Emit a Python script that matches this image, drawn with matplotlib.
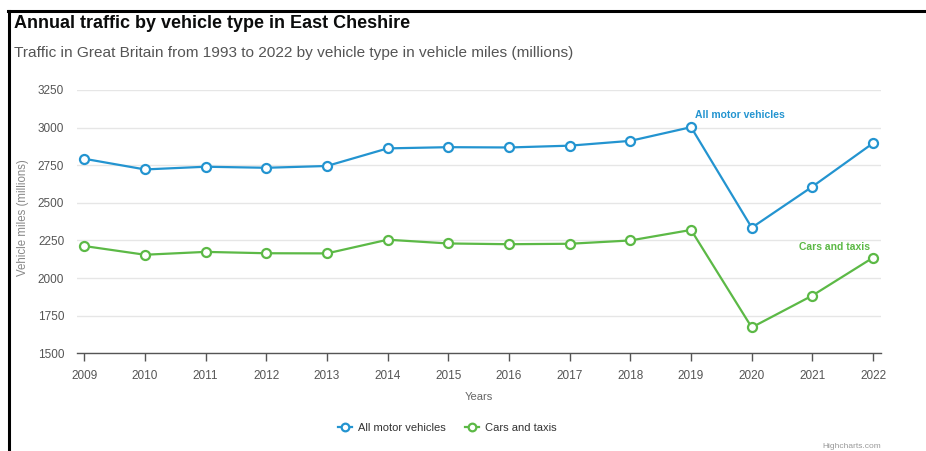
import matplotlib
matplotlib.use("Agg")
import matplotlib.pyplot as plt
from matplotlib.lines import Line2D

years = [2009, 2010, 2011, 2012, 2013, 2014, 2015, 2016, 2017, 2018, 2019, 2020, 2021, 2022]
all_motor = [2793, 2722, 2740, 2733, 2745, 2862, 2870, 2868, 2880, 2912, 3003, 2335, 2608, 2897]
cars_taxis = [2213, 2155, 2174, 2165, 2164, 2255, 2230, 2225, 2228, 2250, 2320, 1672, 1884, 2136]
yticks = [1500, 1750, 2000, 2250, 2500, 2750, 3000, 3250]

BLUE = "#2394d0"
GREEN = "#5cb946"
W, H = 926, 451

plt.rcParams['font.family'] = ['Liberation Sans', 'DejaVu Sans']
fig = plt.figure(figsize=(W / 100, H / 100), dpi=100)
fig.patch.set_facecolor("white")

def fx(px):
    return px / W

def fy(py):
    return 1 - py / H

# plot area: x 76.7..881, y 90..353.3
ax = fig.add_axes([fx(76.7), fy(353.3), fx(881) - fx(76.7), fy(90) - fy(353.3)])
ax.set_facecolor("white")

for s in ["top", "right", "left"]:
    ax.spines[s].set_visible(False)
ax.spines["bottom"].set_color("#555555")
ax.spines["bottom"].set_linewidth(1.0)

ax.set_ylim(1500, 3250)
ax.set_xlim(2009 - 0.124, 2022 + 0.13)
ax.set_yticks(yticks)
ax.set_xticks(years)
ax.set_xticklabels([str(y) for y in years])
ax.yaxis.grid(True, color="#e6e6e6", linewidth=1)
ax.set_axisbelow(True)
ax.tick_params(axis="y", length=0, labelsize=8.5, labelcolor="#555555", pad=9)
ax.tick_params(axis="x", length=6, width=1, color="#555555", labelsize=8.5,
               labelcolor="#555555", pad=6)

mk = dict(marker="o", markersize=6.5, markerfacecolor="white", markeredgewidth=1.6,
          linewidth=1.6, clip_on=False)
ax.plot(years, all_motor, color=BLUE, markeredgecolor=BLUE, zorder=3, **mk)
ax.plot(years, cars_taxis, color=GREEN, markeredgecolor=GREEN, zorder=3, **mk)

ax.annotate("All motor vehicles", xy=(years[10], all_motor[10]), xytext=(3, 5),
            textcoords="offset points", color=BLUE, fontsize=7.5, fontweight="bold",
            ha="left", va="bottom")
ax.annotate("Cars and taxis", xy=(years[13], cars_taxis[13]), xytext=(-2, 4),
            textcoords="offset points", color=GREEN, fontsize=7.5, fontweight="bold",
            ha="right", va="bottom")

ax.set_xlabel("Years", fontsize=8, color="#666666", labelpad=7)
fig.text(fx(23), fy(218), "Vehicle miles (millions)", rotation=90, fontsize=8.3,
         color="#888888", ha="center", va="center")

# titles
fig.text(fx(14), fy(23), "Annual traffic by vehicle type in East Cheshire", fontsize=13,
         fontweight="bold", color="#0b0c0c", ha="left", va="center")
fig.text(fx(14), fy(53), "Traffic in Great Britain from 1993 to 2022 by vehicle type in vehicle miles (millions)",
         fontsize=11.1, color="#555555", ha="left", va="center")

# legend
handles = [
    Line2D([0], [0], color=BLUE, marker="o", markersize=5.5, markerfacecolor="white",
           markeredgecolor=BLUE, markeredgewidth=1.6, linewidth=1.6),
    Line2D([0], [0], color=GREEN, marker="o", markersize=5.5, markerfacecolor="white",
           markeredgecolor=GREEN, markeredgewidth=1.6, linewidth=1.6),
]
fig.legend(handles, ["All motor vehicles", "Cars and taxis"], loc="center",
           bbox_to_anchor=(fx(447), fy(428)), ncol=2, frameon=False, fontsize=8,
           labelcolor="#333333", handlelength=1.3, handletextpad=0.5, columnspacing=1.7)

fig.text(fx(881), fy(447), "Highcharts.com", fontsize=6, color="#999999",
         ha="right", va="center")

# border lines (top and left)
fig.add_artist(Line2D([fx(8), 1.0], [fy(10.5), fy(10.5)], color="black", linewidth=2.2,
                      transform=fig.transFigure))
fig.add_artist(Line2D([fx(8.5), fx(8.5)], [fy(10.5), 0.0], color="black", linewidth=2.2,
                      transform=fig.transFigure))

fig.savefig("out.png", dpi=100, facecolor="white")
